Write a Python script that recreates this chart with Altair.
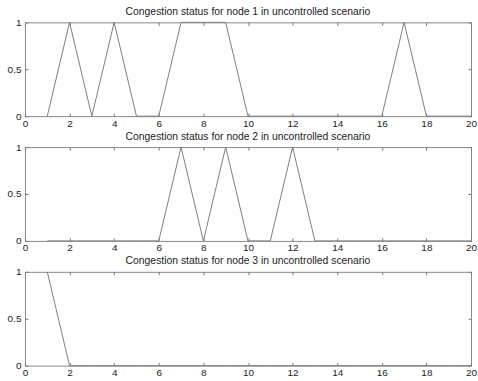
import altair as alt
import pandas as pd

time = list(range(1, 21))
node1 = [0, 1, 0, 1, 0, 0, 1, 1, 1, 0, 0, 0, 0, 0, 0, 0, 1, 0, 0, 0]
node2 = [0, 0, 0, 0, 0, 0, 1, 0, 1, 0, 0, 1, 0, 0, 0, 0, 0, 0, 0, 0]
node3 = [1, 0, 0, 0, 0, 0, 0, 0, 0, 0, 0, 0, 0, 0, 0, 0, 0, 0, 0, 0]
titles = [
    "Congestion status for node 1 in uncontrolled scenario",
    "Congestion status for node 2 in uncontrolled scenario",
    "Congestion status for node 3 in uncontrolled scenario",
]
x_ticks = [0, 2, 4, 6, 8, 10, 12, 14, 16, 18, 20]
y_ticks = [0, 0.5, 1]

W, H = 447, 94
TICK = {"expr": "-3"}


def panel(values, title):
    df = pd.DataFrame({"t": time, "v": values})
    xs = alt.Scale(domain=[0, 20], nice=False, zero=False)
    ys = alt.Scale(domain=[0, 1], nice=False)
    line = alt.Chart(df).mark_line(color="#808080", strokeWidth=1).encode(
        x=alt.X("t:Q", scale=xs, title=None,
                axis=alt.Axis(orient="bottom", values=x_ticks, format="~g",
                              domain=False, grid=False, tickSize=TICK,
                              tickColor="#777777", labelFlush=False,
                              labelOverlap=False, labelPadding=5,
                              labelFontSize=10, labelColor="#222222")),
        y=alt.Y("v:Q", scale=ys, title=None,
                axis=alt.Axis(orient="left", values=y_ticks, format="~g",
                              domain=False, grid=False, tickSize=TICK,
                              tickColor="#777777", labelFlush=False,
                              labelOverlap=False, labelPadding=7,
                              labelFontSize=10, labelColor="#222222")),
    )
    ghost = alt.Chart(df).mark_line(opacity=0).encode(
        x=alt.X("t:Q", scale=xs, title=None,
                axis=alt.Axis(orient="top", values=x_ticks, labels=False,
                              domain=False, grid=False, tickSize=TICK,
                              tickColor="#777777")),
        y=alt.Y("v:Q", scale=ys, title=None,
                axis=alt.Axis(orient="right", values=y_ticks, labels=False,
                              domain=False, grid=False, tickSize=TICK,
                              tickColor="#777777")),
    )
    return alt.layer(line, ghost).resolve_axis(
        x="independent", y="independent"
    ).properties(
        width=W, height=H,
        title=alt.TitleParams(title, fontSize=10.4, fontWeight="normal",
                              color="#222222", anchor="middle", offset=0),
    )


chart = alt.vconcat(
    panel(node1, titles[0]),
    panel(node2, titles[1]),
    panel(node3, titles[2]),
    spacing=31,
    bounds="flush",
).properties(
    padding={"left": 6, "top": 6, "right": 0, "bottom": 0},
).configure(
    font="Liberation Sans",
).configure_view(
    stroke="#888888", strokeWidth=1,
).configure_concat(spacing=31)

chart.save("out.html", embed_options={"renderer": "svg", "actions": False})
